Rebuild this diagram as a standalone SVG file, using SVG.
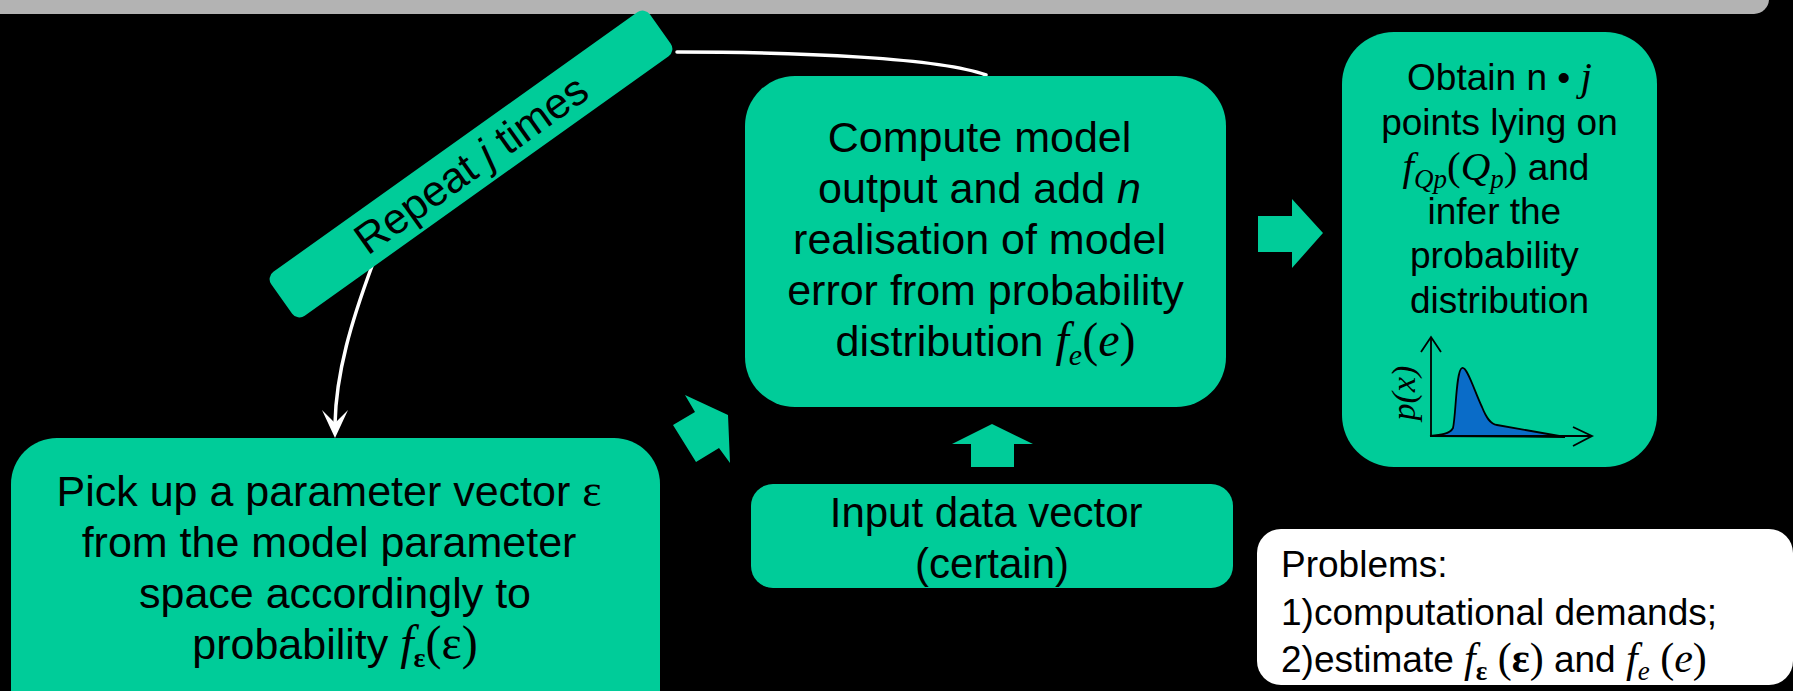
<svg xmlns="http://www.w3.org/2000/svg" width="1793" height="691" viewBox="0 0 1793 691">
<style>
.box{fill:#00cc99}
.t{font-family:"Liberation Sans",Arial,sans-serif;fill:#000}
.m{font-family:"Liberation Serif","Times New Roman",serif;font-style:italic}
.mr{font-family:"Liberation Serif","Times New Roman",serif;font-style:normal}
.mb{font-family:"Liberation Serif","Times New Roman",serif;font-weight:bold;font-style:normal}
.wire{fill:none;stroke:#fff;stroke-width:3.5;stroke-linecap:round}
.blk{fill:#00cc99}
</style>
<rect x="0" y="0" width="1793" height="691" fill="#000"/>
<rect x="-20" y="-20" width="1789" height="34" rx="15" fill="#b3b3b3"/>

<g id="connectors">
  <path class="wire" d="M677,52 C800,52 940,58 986,75"/>
  <path class="wire" d="M372,266 C352,320 336,372 335,424"/>
  <polygon points="335,438 322,410 335,423 348,410" fill="#fff"/>
  <polygon class="blk" points="1258,216 1292,216 1292,199 1323,233 1292,268 1292,252 1258,252"/>
  <polygon class="blk" points="971,467 971,444 952,444 992,424 1033,444 1014,444 1014,467"/>
  <polygon class="blk" points="673,425 695,412 685,395 728,415 730,463 719,448 696,462"/>
</g>

<g id="repeat">
  <g transform="translate(471,164) rotate(-35.5)">
    <rect class="box" x="-232.5" y="-27" width="465" height="54" rx="9"/>
    <text class="t" x="0" y="15" font-size="43" text-anchor="middle">Repeat <tspan font-style="italic">j</tspan> times</text>
  </g>
</g>

<g id="compute">
  <rect class="box" x="745" y="76" width="481" height="331" rx="50"/>
  <text class="t" font-size="43" text-anchor="middle">
    <tspan x="985.5" y="152">Compute model</tspan>
    <tspan x="985.5" y="203">output and add <tspan font-style="italic">n</tspan></tspan>
    <tspan x="985.5" y="254">realisation of model</tspan>
    <tspan x="985.5" y="305">error from probability</tspan>
  </text>
  <text class="t" x="985.5" y="356" font-size="43" text-anchor="middle">distribution <tspan class="m" font-size="48">f</tspan><tspan class="m" font-size="30" dy="9">e</tspan><tspan class="mr" font-size="48" dy="-9">(</tspan><tspan class="m" font-size="48">e</tspan><tspan class="mr" font-size="48">)</tspan></text>
</g>

<g id="obtain">
  <rect class="box" x="1342" y="32" width="315" height="435" rx="52"/>
  <text class="t" x="1499.5" y="90" font-size="37" text-anchor="middle">Obtain n • <tspan class="m" font-size="41">j</tspan></text>
  <text class="t" x="1499.5" y="135" font-size="37" text-anchor="middle">points lying on</text>
  <text class="t" x="1496" y="180" font-size="37" text-anchor="middle"><tspan class="m" font-size="41">f</tspan><tspan class="m" font-size="27" dy="8">Qp</tspan><tspan class="mr" font-size="41" dy="-8">(</tspan><tspan class="m" font-size="41">Q</tspan><tspan class="m" font-size="27" dy="8">p</tspan><tspan class="mr" font-size="41" dy="-8">)</tspan> and</text>
  <text class="t" font-size="37" text-anchor="middle">
    <tspan x="1499.5" y="224">infer the</tspan>
    <tspan x="1499.5" y="268">probability</tspan>
    <tspan x="1499.5" y="313">distribution</tspan>
  </text>
  <path d="M1430,436 C1440,435 1450,434 1453,428 C1456,415 1456,370 1462,368 C1467,366 1474,390 1482,407 C1486,417 1490,424 1497,425 L1565,437 Z" fill="#0a6cc8" stroke="#000" stroke-width="1.8"/>
  <g fill="none" stroke="#000" stroke-width="1.8">
    <path d="M1431,437 V338"/>
    <path d="M1421,352 L1431,337 L1441,352"/>
    <path d="M1430,436 H1591"/>
    <path d="M1573,427 L1592,436 L1573,446"/>
  </g>
  <text class="m" transform="translate(1415,393) rotate(-90)" font-size="34" text-anchor="middle">p(x)</text>
</g>

<g id="pickup">
  <rect class="box" x="11" y="438" width="649" height="300" rx="46"/>
  <text class="t" font-size="43" text-anchor="middle">
    <tspan x="335" y="506">Pick up a parameter vector <tspan class="mr" font-size="46">ε</tspan></tspan>
    <tspan x="335" y="557">from the model parameter</tspan>
    <tspan x="335" y="608">space accordingly to</tspan>
  </text>
  <text class="t" x="335" y="659" font-size="43" text-anchor="middle">probability <tspan class="m" font-size="48">f</tspan><tspan class="mb" font-size="28" dy="8">ε</tspan><tspan class="mr" font-size="48" dy="-8">(ε)</tspan></text>
</g>

<g id="input">
  <rect class="box" x="751" y="484" width="482" height="104" rx="22"/>
  <text class="t" font-size="42" text-anchor="middle">
    <tspan x="992" y="527">Input data vector</tspan>
    <tspan x="992" y="578">(certain)</tspan>
  </text>
</g>

<g id="problems">
  <rect x="1257" y="529" width="536" height="156" rx="24" fill="#fff"/>
  <text class="t" font-size="37">
    <tspan x="1281" y="577">Problems:</tspan>
    <tspan x="1281" y="625">1)computational demands;</tspan>
  </text>
  <text class="t" x="1281" y="672" font-size="37">2)estimate <tspan class="m" font-size="42">f</tspan><tspan class="mb" font-size="27" dy="8">ε</tspan><tspan class="mr" font-size="42" dy="-8"> (</tspan><tspan class="mb" font-size="42">ε</tspan><tspan class="mr" font-size="42">)</tspan> and <tspan class="m" font-size="42">f</tspan><tspan class="m" font-size="27" dy="8">e</tspan><tspan class="mr" font-size="42" dy="-8"> (</tspan><tspan class="m" font-size="42">e</tspan><tspan class="mr" font-size="42">)</tspan></text>
</g>
</svg>
